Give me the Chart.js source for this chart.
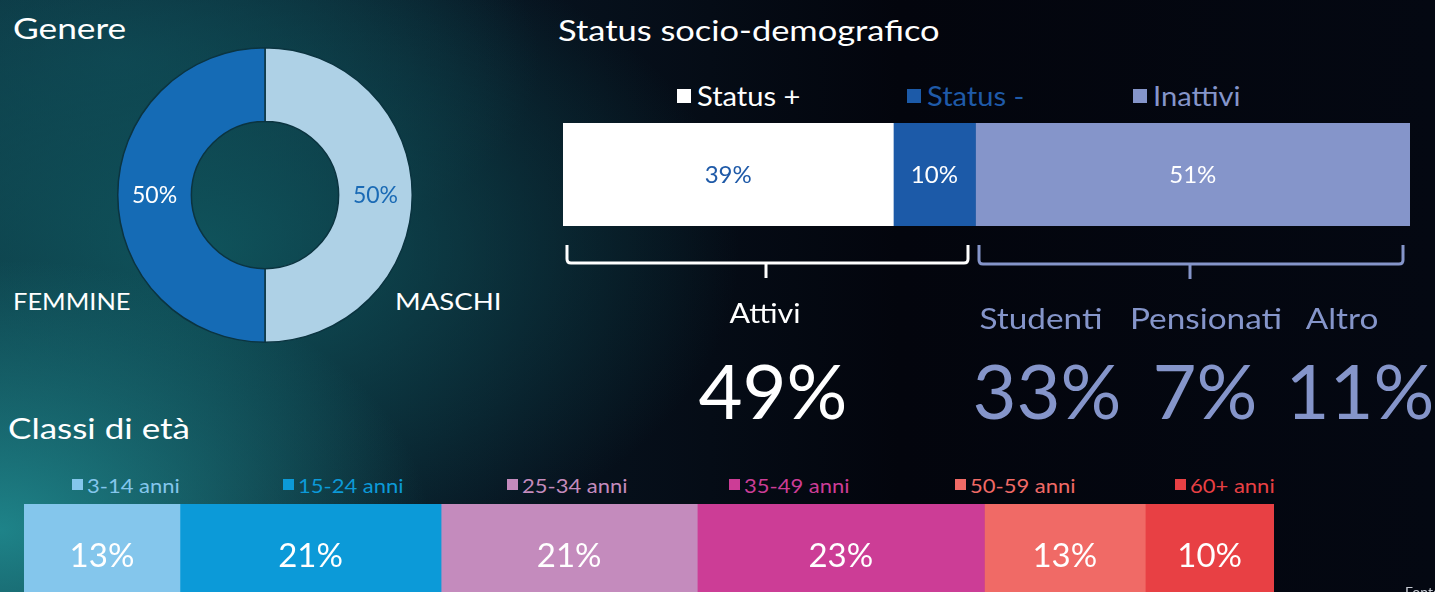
<!DOCTYPE html>
<html><head><meta charset="utf-8">
<script src="https://cdn.jsdelivr.net/npm/chart.js@4"></script>
<style>
html,body{margin:0;padding:0;width:1435px;height:592px;overflow:hidden;}
body{position:relative;font-family:"Lato","Open Sans",sans-serif;color:#fff;
background:
 radial-gradient(ellipse 430px 270px at 0px 530px, rgba(32,140,145,0.9), rgba(32,140,145,0) 100%),
 radial-gradient(ellipse 540px 340px at 200px 250px, rgba(16,88,96,0.9), rgba(16,88,96,0) 100%),
 radial-gradient(ellipse 420px 220px at 120px 60px, rgba(14,66,78,0.85), rgba(14,66,78,0) 100%),
 linear-gradient(90deg,#0c2e3a 0px,#07131f 520px,#03050d 900px,#040812 1435px);}
.t{position:absolute;white-space:nowrap;line-height:1;transform-origin:0 50%;}
.c{position:absolute;white-space:nowrap;line-height:1;}
.sq{position:absolute;}
canvas{display:block;}
.cv{position:absolute;}
</style></head><body>
<div class="t" style="left:13px;top:28px;font-size:28px;transform:translateY(-50%) scaleX(1.26);">Genere</div>
<div class="t" style="left:558px;top:30px;font-size:28px;transform:translateY(-50%) scaleX(1.23);">Status socio-demografico</div>
<div class="t" style="left:8px;top:428px;font-size:28px;transform:translateY(-50%) scaleX(1.25);">Classi di età</div>
<div class="t" style="left:13px;top:301px;font-size:24px;transform:translateY(-50%) scaleX(1.06);">FEMMINE</div>
<div class="t" style="left:395px;top:301px;font-size:24px;transform:translateY(-50%) scaleX(1.15);">MASCHI</div>

<div class="cv" style="left:117px;top:47px;width:296px;height:296px;"><canvas id="donut"></canvas></div>
<div class="cv" style="left:563px;top:123px;width:847px;height:103px;"><canvas id="status"></canvas></div>
<div class="cv" style="left:24px;top:504px;width:1250px;height:102px;"><canvas id="age"></canvas></div>

<div id="legS"></div>
<div id="legA"></div>

<svg style="position:absolute;left:0;top:0" width="1435" height="592">
 <path d="M567 245 V259 Q567 263 571 263 H766 V278 M766 263 H964 Q968 263 968 259 V245" fill="none" stroke="#fff" stroke-width="3"/>
 <path d="M979 245 V260 Q979 264 983 264 H1190 V279 M1190 264 H1399 Q1403 264 1403 260 V245" fill="none" stroke="#8595CA" stroke-width="3"/>
</svg>

<div id="big"></div>
<div class="t" style="left:1405px;top:592px;font-size:14px;color:#c8ccd4;transform:translateY(-50%);">Fonte</div>

<script>
// ---- data (shares in %; labels show rounded values) ----
const genderLabels = ['MASCHI','FEMMINE'];
const genderValues = [50, 50];
const statusLabels = ['Status +','Status -','Inattivi'];
const statusValues = [39, 9.7, 51.3];
const activeLabels = ['Attivi'];
const activeValues = [49];
const inactiveLabels = ['Studenti','Pensionati','Altro'];
const inactiveValues = [33, 7, 11];
const ageLabels = ['3-14 anni','15-24 anni','25-34 anni','35-49 anni','50-59 anni','60+ anni'];
const ageValues = [12.6, 21.1, 20.7, 23.2, 13.0, 10.4];

// ---- styles ----
const genderColors = ['#AED1E6','#156BB5'];
const genderTextColors = ['#1A6AB5','#FFFFFF'];
const statusColors = ['#FFFFFF','#1C5AA8','#8595CA'];
const statusTextColors = ['#1F5AA8','#FFFFFF','#FFFFFF'];
const statusLegendText = ['#FFFFFF','#1F5AA8','#8595CA'];
const ageColors = ['#84C6EC','#0C9AD8','#C48BBD','#CC3D96','#F06A66','#E84044'];

const FONT = 'Lato, "Open Sans", sans-serif';

const valLabels = {
  id:'valLabels',
  afterDatasetsDraw(chart, args, opts){
    const ctx = chart.ctx;
    ctx.save();
    ctx.textAlign='center'; ctx.textBaseline='middle';
    ctx.font = opts.size + 'px ' + FONT;
    chart.data.datasets.forEach((ds,i)=>{
      const meta = chart.getDatasetMeta(i);
      meta.data.forEach((el,j)=>{
        const p = el.getCenterPoint();
        const col = Array.isArray(ds.textColor) ? ds.textColor[j] : ds.textColor;
        ctx.fillStyle = col;
        ctx.fillText(Math.round(ds.data[j]) + '%', p.x, p.y + (opts.dy||0));
      });
    });
    ctx.restore();
  }
};

const common = {
  responsive:true, maintainAspectRatio:false, animation:false,
  layout:{padding:0},
  plugins:{legend:{display:false}, tooltip:{enabled:false}}
};

new Chart(document.getElementById('donut'),{
  type:'doughnut',
  data:{labels:genderLabels, datasets:[{data:genderValues, backgroundColor:genderColors,
    borderColor:'#0b3440', borderWidth:1.5, textColor:genderTextColors}]},
  options:{...common, cutout:'50%', plugins:{...common.plugins, valLabels:{size:23, dy:1}}},
  plugins:[valLabels]
});

function stackBar(id, labels, values, colors, textColors, size, dy){
  const total = values.reduce((a,b)=>a+b,0);
  new Chart(document.getElementById(id),{
    type:'bar',
    data:{labels:[''], datasets: labels.map((l,i)=>({label:l, data:[values[i]],
      backgroundColor:colors[i], borderWidth:0, barPercentage:1, categoryPercentage:1,
      textColor:textColors[i]}))},
    options:{...common, indexAxis:'y',
      scales:{x:{stacked:true, display:false, min:0, max:total},
              y:{stacked:true, display:false}},
      plugins:{...common.plugins, valLabels:{size:size, dy:dy}}},
    plugins:[valLabels]
  });
}
stackBar('status', statusLabels, statusValues, statusColors, statusTextColors, 24, 1);
stackBar('age', ageLabels, ageValues, ageColors, ageColors.map(()=>'#FFFFFF'), 33, 1);

// ---- legends (HTML) ----
const legS = document.getElementById('legS');
const legSPos = [677, 907, 1133];
statusLabels.forEach((l,i)=>{
  legS.insertAdjacentHTML('beforeend',
   `<div class="sq" style="left:${legSPos[i]}px;top:89px;width:14px;height:14px;background:${statusColors[i]}"></div>
    <div class="t" style="left:${legSPos[i]+20}px;top:96px;font-size:26px;color:${statusLegendText[i]};transform:translateY(-50%) scaleX(1.12)">${l}</div>`);
});
const legA = document.getElementById('legA');
const legAPos = [72, 283, 507, 729, 955, 1175];
ageLabels.forEach((l,i)=>{
  legA.insertAdjacentHTML('beforeend',
   `<div class="sq" style="left:${legAPos[i]}px;top:479px;width:11px;height:11px;background:${ageColors[i]}"></div>
    <div class="t" style="left:${legAPos[i]+15}px;top:485px;font-size:20px;color:${ageColors[i]};transform:translateY(-50%) scaleX(1.1)">${l}</div>`);
});

// ---- big numbers ----
const big = document.getElementById('big');
const cStyle = (x,y,s,col,sx)=>`left:${x}px;top:${y}px;font-size:${s}px;color:${col};transform:translate(-50%,-50%) scaleX(${sx})`;
big.insertAdjacentHTML('beforeend',
  `<div class="c" style="${cStyle(765,313,26,'#fff',1.17)}">${activeLabels[0]}</div>
   <div class="c" style="${cStyle(773,390,76,'#fff',1)}">${activeValues[0]}%</div>`);
const inX = [1041, 1206, 1342];
const inBigX = [1047, 1205, 1360];
inactiveLabels.forEach((l,i)=>{
  big.insertAdjacentHTML('beforeend',
   `<div class="c" style="${cStyle(inX[i],318,28,'#8595CA',1.19)}">${l}</div>
    <div class="c" style="${cStyle(inBigX[i],390,76,'#8595CA',1)}">${inactiveValues[i]}%</div>`);
});
</script>
</body></html>
